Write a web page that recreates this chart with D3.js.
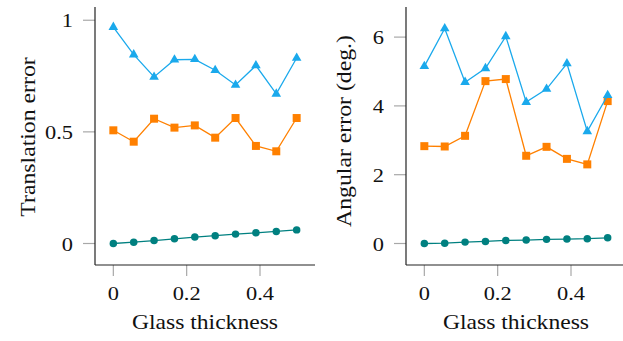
<!DOCTYPE html>
<html>
<head>
<meta charset="utf-8">
<script src="https://cdn.jsdelivr.net/npm/d3@7"></script>
<style>
  body { margin: 0; background: #fff; }
  svg { display: block; }
  text { font-family: "Liberation Serif", "Times New Roman", serif; fill: #111; }
</style>
</head>
<body>
<svg id="chart" width="623" height="341"></svg>
<script>
// glass thickness values, 10 steps from 0 to 0.5
const thickness = [0, 0.0556, 0.1111, 0.1667, 0.2222, 0.2778, 0.3333, 0.3889, 0.4444, 0.5];

const transBlue   = [0.969, 0.846, 0.746, 0.823, 0.825, 0.776, 0.710, 0.797, 0.670, 0.831];
const transOrange = [0.507, 0.456, 0.559, 0.519, 0.529, 0.474, 0.562, 0.437, 0.413, 0.562];
const transTeal   = [0.000, 0.006, 0.013, 0.021, 0.029, 0.035, 0.042, 0.048, 0.054, 0.061];

const angBlue   = [5.15, 6.25, 4.69, 5.09, 6.02, 4.11, 4.49, 5.23, 3.26, 4.31];
const angOrange = [2.83, 2.82, 3.13, 4.72, 4.78, 2.55, 2.81, 2.46, 2.30, 4.14];
const angTeal   = [0.00, 0.01, 0.04, 0.06, 0.09, 0.10, 0.12, 0.13, 0.14, 0.165];

const xTicks = [0, 0.2, 0.4];
const transTicks = [0, 0.5, 1];
const angTicks = [0, 2, 4, 6];

const colors = { blue: "#1aa9ec", orange: "#ff8000", teal: "#008080" };

const svg = d3.select("#chart");
const sx = 1.18; // glyphs in the reference are wider than Liberation Serif

function panel(opts) {
  const g = svg.append("g");
  const x = d3.scaleLinear().domain([-0.05, 0.55]).range([opts.left, opts.left + 220]);
  const y = d3.scaleLinear().domain(opts.yDomain).range([265, 7]);

  // ticks (outside, gray)
  g.selectAll(".xt").data(xTicks).enter().append("line")
    .attr("x1", d => x(d)).attr("x2", d => x(d))
    .attr("y1", 265).attr("y2", 276)
    .attr("stroke", "#a8a8a8").attr("stroke-width", 1.2);
  g.selectAll(".yt").data(opts.yTicks).enter().append("line")
    .attr("x1", opts.left - 12).attr("x2", opts.left)
    .attr("y1", d => y(d)).attr("y2", d => y(d))
    .attr("stroke", "#a8a8a8").attr("stroke-width", 1.2);

  // axis lines
  g.append("line").attr("x1", opts.left).attr("x2", opts.left)
    .attr("y1", 7).attr("y2", 265).attr("stroke", "#222").attr("stroke-width", 1.2);
  g.append("line").attr("x1", opts.left).attr("x2", opts.left + 220)
    .attr("y1", 265).attr("y2", 265).attr("stroke", "#222").attr("stroke-width", 1.2);

  // tick labels
  g.selectAll(".xl").data(xTicks).enter().append("text")
    .attr("transform", d => `translate(${x(d)},300) scale(${sx},1)`)
    .attr("text-anchor", "middle").style("font-size", "19px")
    .text(d => d3.format("~g")(d));
  g.selectAll(".yl").data(opts.yTicks).enter().append("text")
    .attr("transform", d => `translate(${opts.left - 22},${y(d) + 7}) scale(${sx},1)`)
    .attr("text-anchor", "end").style("font-size", "19px")
    .text(d => d3.format("~g")(d));

  // axis titles
  g.append("text")
    .attr("transform", `translate(${opts.left + 110},329) scale(${sx},1)`)
    .attr("text-anchor", "middle").style("font-size", "20px")
    .text("Glass thickness");
  g.append("text")
    .attr("transform", `translate(${opts.yLabelX},${opts.yLabelY}) rotate(-90) scale(1.08,1)`)
    .attr("text-anchor", "middle").style("font-size", "22px")
    .text(opts.yLabel);

  const line = d3.line().x((d, i) => x(thickness[i])).y(d => y(d));

  const series = [
    { vals: opts.teal, color: colors.teal, shape: d3.symbolCircle, size: 44 },
    { vals: opts.orange, color: colors.orange, shape: d3.symbolSquare, size: 64 },
    { vals: opts.blue, color: colors.blue, shape: d3.symbolTriangle, size: 40 }
  ];

  series.forEach(s => {
    g.append("path").datum(s.vals)
      .attr("d", line)
      .attr("fill", "none")
      .attr("stroke", s.color)
      .attr("stroke-width", 1.3);
    g.selectAll(null).data(s.vals).enter().append("path")
      .attr("d", d3.symbol().type(s.shape).size(s.size))
      .attr("transform", (d, i) => `translate(${x(thickness[i])},${y(d)})`)
      .attr("fill", s.color);
  });
}

panel({
  left: 95,
  yDomain: [-0.0963, 1.0593],
  yTicks: transTicks,
  yLabel: "Translation error",
  yLabelX: 35, yLabelY: 137,
  blue: transBlue, orange: transOrange, teal: transTeal
});

panel({
  left: 406,
  yDomain: [-0.625, 6.875],
  yTicks: angTicks,
  yLabel: "Angular error (deg.)",
  yLabelX: 351, yLabelY: 131,
  blue: angBlue, orange: angOrange, teal: angTeal
});
</script>
</body>
</html>
